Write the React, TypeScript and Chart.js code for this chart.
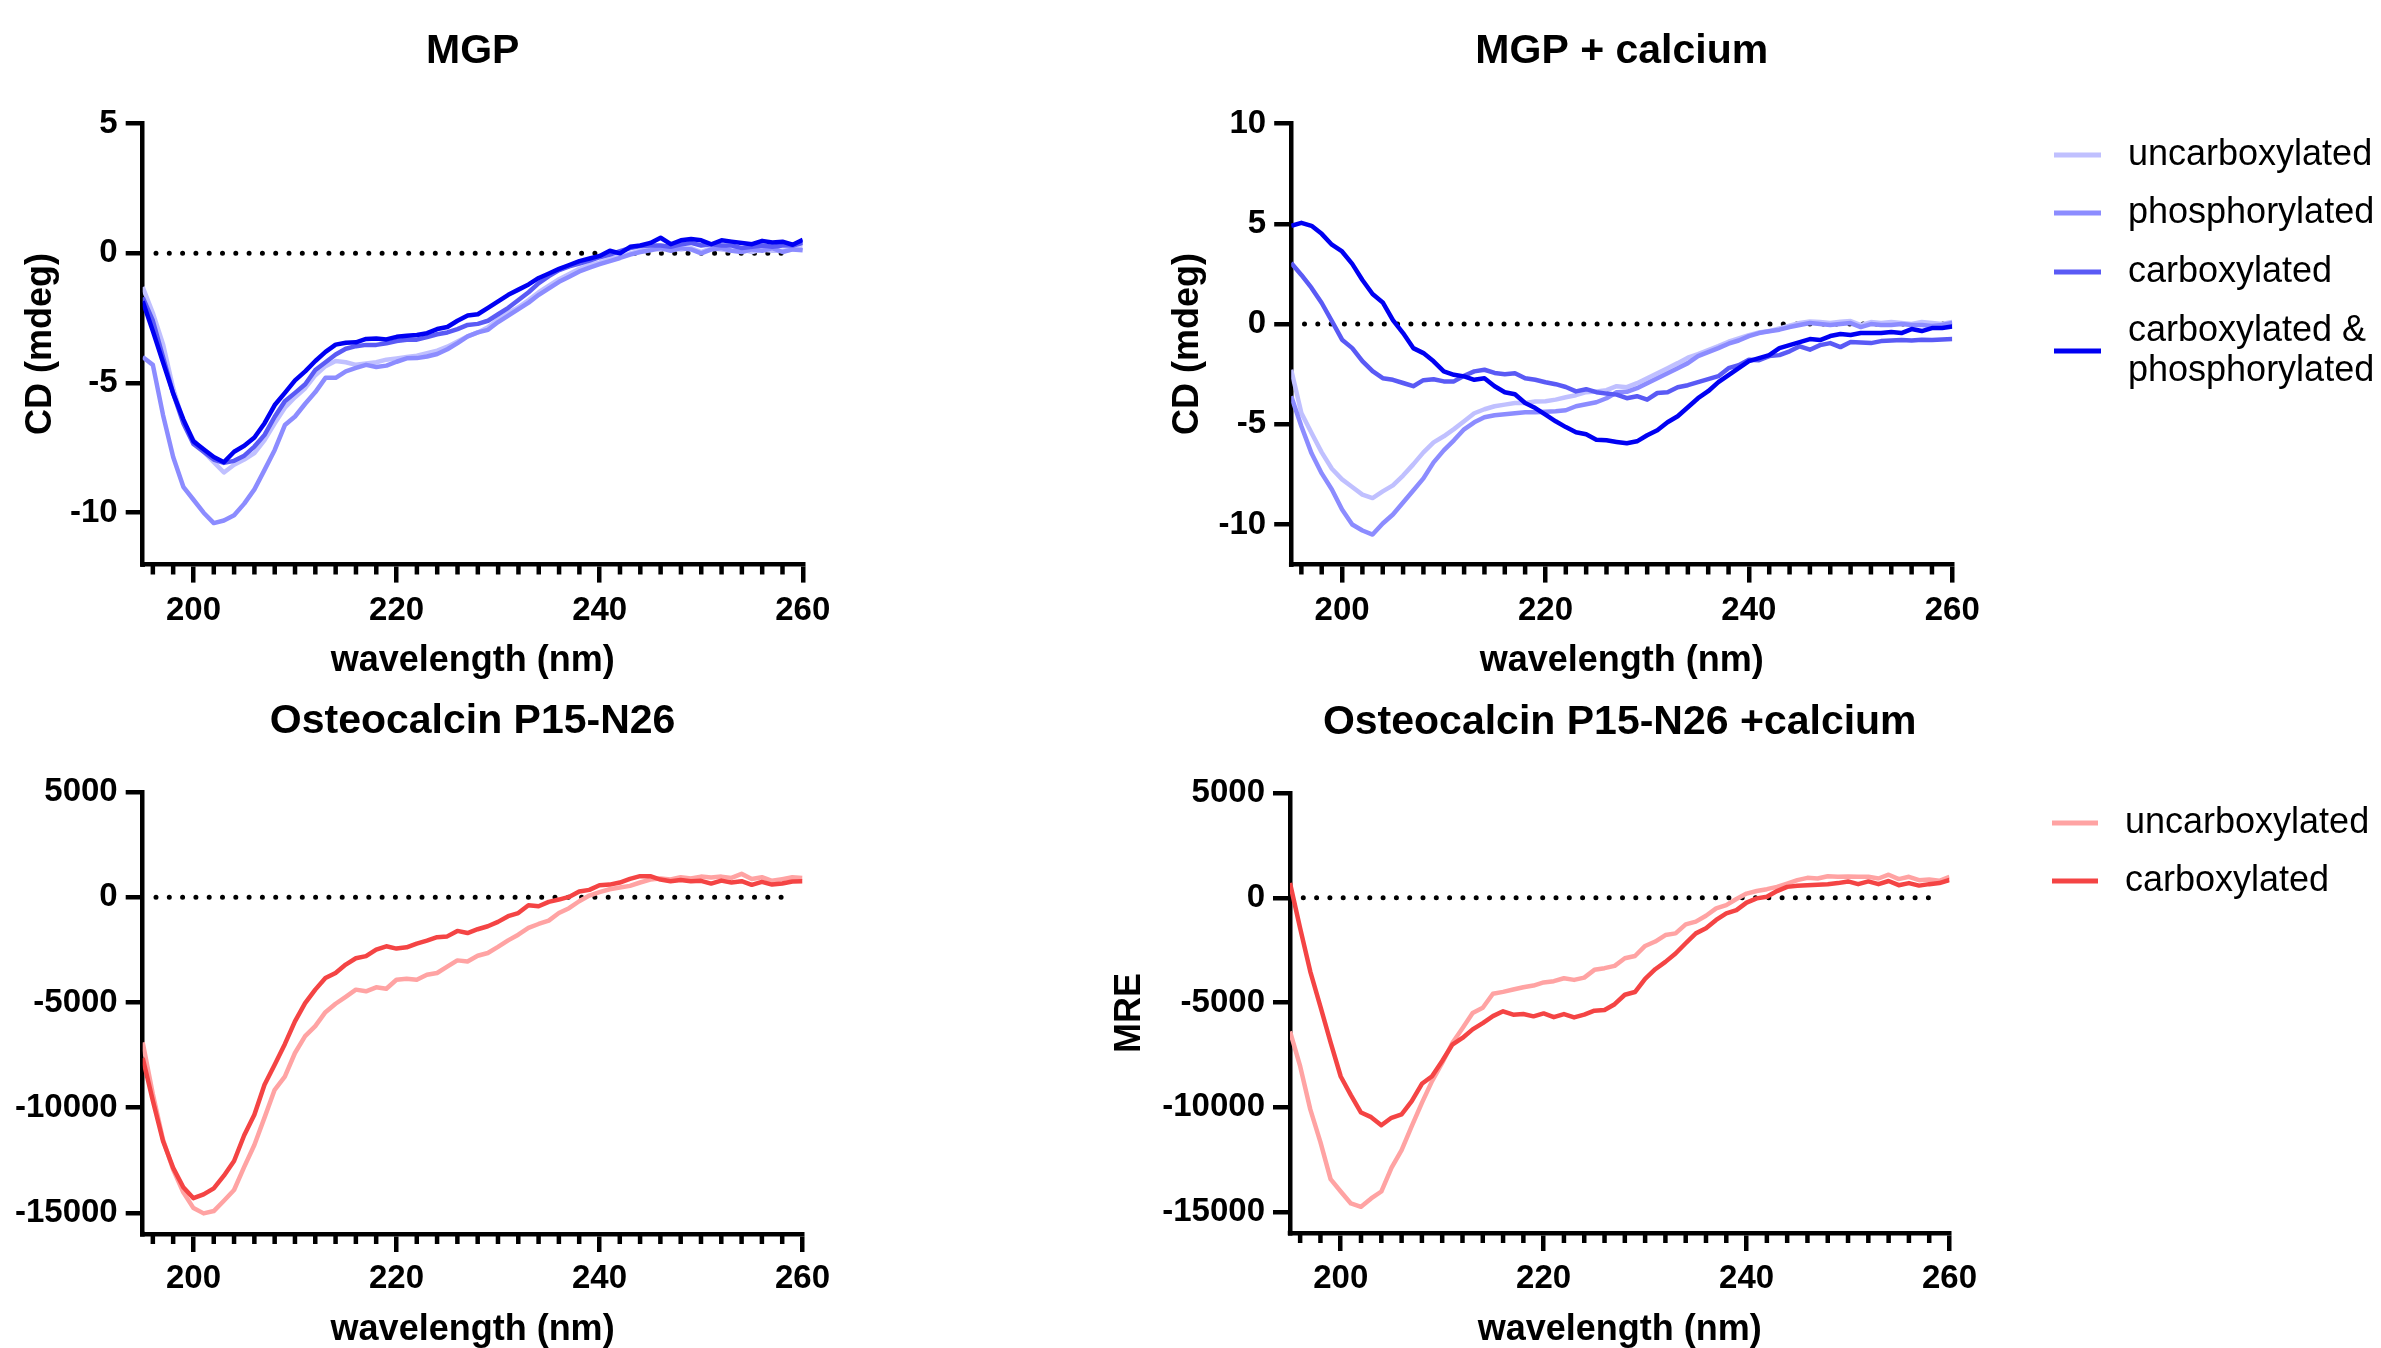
import { useEffect, useRef } from 'react';
import { Chart, registerables } from 'chart.js';

Chart.register(...registerables);

const FONT = "'Liberation Sans', Arial, Helvetica, sans-serif";

// ---------------- data ----------------
const wavelengths = [
  195, 196, 197, 198, 199, 200, 201, 202, 203, 204, 205, 206, 207, 208, 209, 210, 211,
  212, 213, 214, 215, 216, 217, 218, 219, 220, 221, 222, 223, 224, 225, 226, 227, 228,
  229, 230, 231, 232, 233, 234, 235, 236, 237, 238, 239, 240, 241, 242, 243, 244, 245,
  246, 247, 248, 249, 250, 251, 252, 253, 254, 255, 256, 257, 258, 259, 260,
];

const xTickValues = [200, 220, 240, 260];
const xMinorTickValues = [
  196, 198, 202, 204, 206, 208, 210, 212, 214, 216, 218, 222, 224, 226, 228, 230, 232,
  234, 236, 238, 242, 244, 246, 248, 250, 252, 254, 256, 258,
];
const mgpYTicks = [-10, -5, 0, 5];
const mgpCaYTicks = [-10, -5, 0, 5, 10];
const ocYTicks = [-15000, -10000, -5000, 0, 5000];

const mgpLabels = ['uncarboxylated', 'phosphorylated', 'carboxylated', 'carboxylated &\nphosphorylated'];
const ocLabels = ['uncarboxylated', 'carboxylated'];

// MGP (mdeg)
const mgpUncarb = [
  -1.3, -2.3, -3.5, -5.2, -6.5, -7.2, -7.65, -8.05, -8.45, -8.15, -7.95, -7.7, -7.2, -6.55, -5.95, -5.55, -5.2,
  -4.7, -4.35, -4.15, -4.2, -4.3, -4.25, -4.2, -4.1, -4.05, -4.0, -3.95, -3.85, -3.75, -3.6, -3.4, -3.2, -3.05,
  -2.85, -2.55, -2.3, -2.08, -1.8, -1.5, -1.25, -1.0, -0.8, -0.6, -0.45, -0.35, -0.22, -0.12, 0.0, 0.1, 0.18,
  0.15, 0.2, 0.15, 0.2, 0.05, 0.2, 0.15, 0.1, 0.15, 0.05, 0.15, 0.1, 0.1, 0.15, 0.2,
];
const mgpPhos = [
  -4.0, -4.3, -6.23, -7.85, -9.0, -9.5, -10.0, -10.4, -10.3, -10.1, -9.65, -9.1, -8.35, -7.58, -6.62, -6.29, -5.8,
  -5.35, -4.8, -4.8, -4.55, -4.42, -4.3, -4.38, -4.33, -4.18, -4.05, -4.04, -3.98, -3.88, -3.7, -3.46, -3.2, -3.05,
  -2.95, -2.65, -2.4, -2.15, -1.9, -1.6, -1.35, -1.1, -0.9, -0.7, -0.55, -0.42, -0.3, -0.18, -0.05, 0.05, 0.12,
  0.2, 0.1, 0.2, 0.15, 0.0, 0.15, 0.2, 0.1, 0.05, 0.15, 0.1, 0.2, 0.05, 0.15, 0.12,
];
const mgpCarb = [
  -1.7, -2.6, -4.0, -5.4, -6.55, -7.35, -7.65, -7.95, -8.08, -8.0, -7.8, -7.45, -7.0, -6.3, -5.7, -5.38, -5.05,
  -4.5, -4.2, -3.9, -3.68, -3.58, -3.53, -3.53, -3.47, -3.38, -3.33, -3.33, -3.23, -3.12, -3.05, -2.92, -2.76, -2.72,
  -2.6, -2.35, -2.1, -1.8, -1.5, -1.15, -0.88, -0.65, -0.5, -0.4, -0.28, -0.15, -0.05, 0.08, 0.2, 0.28, 0.3,
  0.3, 0.25, 0.35, 0.4, 0.3, 0.35, 0.3, 0.3, 0.2, 0.25, 0.3, 0.25, 0.3, 0.3, 0.4,
];
const mgpCarbPhos = [
  -1.85, -3.0, -4.2, -5.4, -6.4, -7.25, -7.55, -7.85, -8.05, -7.65, -7.42, -7.1, -6.55, -5.85, -5.38, -4.9, -4.55,
  -4.15, -3.8, -3.52, -3.45, -3.43, -3.3, -3.28, -3.32, -3.22, -3.18, -3.15, -3.08, -2.92, -2.84, -2.6, -2.4, -2.35,
  -2.1, -1.85, -1.6, -1.4, -1.2, -0.95, -0.78, -0.6, -0.45, -0.3, -0.2, -0.1, 0.1, 0.0, 0.25, 0.3, 0.4,
  0.6, 0.35, 0.5, 0.55, 0.5, 0.35, 0.5, 0.45, 0.4, 0.35, 0.48, 0.42, 0.45, 0.33, 0.52,
];

// MGP + calcium (mdeg)
const mgpCaUncarb = [
  -2.28, -4.44, -5.44, -6.4, -7.22, -7.75, -8.13, -8.51, -8.68, -8.35, -8.05, -7.56, -7.0, -6.4, -5.9, -5.6, -5.24,
  -4.85, -4.45, -4.25, -4.1, -4.02, -3.94, -3.94, -3.86, -3.85, -3.77, -3.65, -3.55, -3.4, -3.36, -3.3, -3.1,
  -3.15, -2.95, -2.7, -2.45, -2.2, -1.95, -1.68, -1.5, -1.3, -1.1, -0.88, -0.72, -0.55, -0.42, -0.35, -0.22, -0.08,
  0.05, 0.13, 0.1, 0.05, 0.12, 0.15, -0.05, 0.1, 0.05, 0.1, 0.05, 0.0, 0.1, 0.05, 0.0, 0.1,
];
const mgpCaPhos = [
  -3.6, -5.1, -6.45, -7.45, -8.25, -9.25, -10.0, -10.3, -10.5, -9.95, -9.5, -8.9, -8.3, -7.7, -6.9, -6.3, -5.8,
  -5.25, -4.9, -4.65, -4.55, -4.5, -4.45, -4.4, -4.4, -4.38, -4.35, -4.3, -4.1, -4.0, -3.9, -3.7, -3.4,
  -3.38, -3.2, -2.95, -2.7, -2.45, -2.2, -1.95, -1.6, -1.4, -1.2, -0.98, -0.82, -0.6, -0.45, -0.36, -0.28, -0.15,
  -0.05, 0.05, 0.0, -0.05, 0.0, 0.05, -0.15, 0.0, -0.05, -0.05, 0.0, -0.05, -0.05, -0.1, -0.05, 0.05,
];
const mgpCaCarb = [
  3.05, 2.45, 1.8, 1.05, 0.15, -0.78, -1.2, -1.85, -2.35, -2.7, -2.78, -2.94, -3.1, -2.8, -2.75, -2.86, -2.86,
  -2.58, -2.36, -2.28, -2.44, -2.5, -2.45, -2.7, -2.78, -2.9, -3.0, -3.14, -3.36, -3.25, -3.4, -3.47, -3.52,
  -3.7, -3.6, -3.77, -3.44, -3.4, -3.15, -3.05, -2.9, -2.75, -2.6, -2.2, -2.05, -1.78, -1.8, -1.6, -1.55, -1.36,
  -1.11, -1.28, -1.05, -0.95, -1.15, -0.9, -0.92, -0.95, -0.85, -0.82, -0.8, -0.82, -0.78, -0.8, -0.77, -0.75,
];
const mgpCaCarbPhos = [
  4.9, 5.05, 4.9, 4.5, 3.96, 3.62, 3.0, 2.2, 1.5, 1.08, 0.2, -0.45, -1.2, -1.45, -1.86, -2.36, -2.53,
  -2.61, -2.78, -2.7, -3.1, -3.4, -3.5, -3.94, -4.19, -4.52, -4.85, -5.14, -5.4, -5.5, -5.77, -5.8, -5.88,
  -5.95, -5.85, -5.55, -5.3, -4.9, -4.6, -4.15, -3.7, -3.35, -2.9, -2.55, -2.2, -1.85, -1.7, -1.55, -1.2, -1.05,
  -0.9, -0.75, -0.8, -0.6, -0.5, -0.55, -0.45, -0.45, -0.45, -0.4, -0.45, -0.25, -0.35, -0.2, -0.2, -0.12,
];

// Osteocalcin P15-N26 (MRE)
const ocUncarb = [
  -6900, -9360, -11510, -12940, -14020, -14770, -15020, -14910, -14420, -13910, -12810, -11770, -10470, -9150, -8520, -7400, -6600,
  -6120, -5460, -5060, -4730, -4390, -4470, -4280, -4350, -3920, -3870, -3920, -3680, -3600, -3300, -3000, -3050,
  -2780, -2650, -2360, -2050, -1780, -1460, -1270, -1110, -750, -520, -190, 80, 240, 380, 460, 540, 700,
  840, 890, 840, 950, 890, 980, 940, 980, 920, 1110, 870, 950, 780, 860, 950, 920,
];
const ocCarb = [
  -7640, -9670, -11580, -12860, -13780, -14300, -14120, -13830, -13230, -12530, -11310, -10330, -8910, -7960, -6980, -5900, -5030,
  -4390, -3840, -3600, -3200, -2900, -2800, -2490, -2330, -2440, -2380, -2200, -2060, -1900, -1860, -1600, -1700,
  -1520, -1380, -1170, -900, -750, -380, -430, -220, -110, 15, 270, 350, 570, 600, 700, 870, 1000,
  1000, 840, 760, 820, 760, 780, 650, 790, 700, 760, 590, 730, 600, 650, 750, 760,
];

// Osteocalcin P15-N26 + calcium (MRE)
const ocCaUncarb = [
  -6380, -8040, -10100, -11660, -13430, -14020, -14590, -14750, -14350, -14020, -12890, -12040, -10900, -9790, -8750, -7880, -6930,
  -6230, -5500, -5250, -4580, -4490, -4380, -4270, -4190, -4040, -3980, -3840, -3920, -3810, -3440, -3360, -3250, -2890,
  -2780, -2300, -2090, -1780, -1700, -1270, -1140, -860, -510, -350, -60, 200, 320, 410, 520, 680,
  840, 950, 920, 1030, 1000, 1010, 1000, 1000, 920, 1100, 890, 1000, 840, 870, 810, 1000,
];
const ocCaCarb = [
  700, -1460, -3520, -5190, -6900, -8530, -9420, -10250, -10470, -10860, -10500, -10340, -9710, -8880, -8520, -7790, -7010,
  -6690, -6280, -5980, -5650, -5420, -5580, -5550, -5660, -5520, -5700, -5550, -5710, -5580, -5390, -5360, -5080, -4630,
  -4500, -3870, -3410, -3060, -2660, -2170, -1700, -1460, -1060, -745, -590, -230, -30, 50, 320, 520,
  570, 600, 620, 650, 700, 780, 650, 780, 650, 800, 600, 700, 580, 650, 700, 850,
];

// ---------------- styles ----------------
const blueColors = ['#C0C0FF', '#8C8CFF', '#5A5AF5', '#0000F2'];
const redColors = ['#FFA3A3', '#F44444'];
const AXIS_W = 4.5;
const MINOR_LEN = 10;

const decorPlugin: any = {
  id: 'panelDecor',
  beforeDatasetsDraw(chart: any, _args: any, opts: any) {
    const { ctx, chartArea, scales } = chart;
    const y0 = scales.y.getPixelForValue(0);
    ctx.save();
    ctx.strokeStyle = '#000';
    ctx.lineWidth = 5;
    ctx.lineCap = 'round';
    ctx.setLineDash([0, opts.dotGap]);
    ctx.beginPath();
    ctx.moveTo(chartArea.left + opts.dotStart, y0);
    ctx.lineTo(chartArea.right - opts.dotEnd, y0);
    ctx.stroke();
    ctx.restore();
  },
  afterDraw(chart: any, _args: any, opts: any) {
    const { ctx, chartArea, scales } = chart;
    const xs = scales.x;
    ctx.save();
    ctx.fillStyle = '#000';
    ctx.fillRect(chartArea.left - AXIS_W / 2, chartArea.bottom - AXIS_W / 2, AXIS_W, AXIS_W);
    ctx.strokeStyle = '#000';
    ctx.lineWidth = AXIS_W;
    ctx.lineCap = 'butt';
    ctx.beginPath();
    for (const v of xMinorTickValues) {
      const px = xs.getPixelForValue(v);
      ctx.moveTo(px, chartArea.bottom);
      ctx.lineTo(px, chartArea.bottom + MINOR_LEN);
    }
    ctx.stroke();

    ctx.fillStyle = '#000';
    ctx.font = `bold 41px ${FONT}`;
    ctx.textAlign = 'center';
    ctx.textBaseline = 'middle';
    ctx.fillText(opts.title, (chartArea.left + chartArea.right) / 2, opts.titleY);

    const L = opts.legend;
    if (L) {
      const items = chart.data.datasets;
      items.forEach((ds: any, i: number) => {
        const cy = L.rows[i];
        ctx.strokeStyle = ds.borderColor;
        ctx.lineWidth = 5;
        ctx.beginPath();
        ctx.moveTo(L.lineX1, cy);
        ctx.lineTo(L.lineX2, cy);
        ctx.stroke();
        const lines = String(ds.label).split('\n');
        ctx.font = `36px ${FONT}`;
        ctx.textAlign = 'left';
        ctx.textBaseline = 'middle';
        ctx.fillStyle = '#000';
        lines.forEach((t: string, j: number) => {
          ctx.fillText(t, L.textX, cy + (j - (lines.length - 1) / 2) * L.lineGap);
        });
      });
    }
    ctx.restore();
  },
};

type Series = { label: string; data: number[]; color: string };
type PanelSpec = {
  key: string;
  left: number; top: number; width: number; height: number;
  title: string; titleY: number;
  yTitle: string | null; yTitlePad: number;
  yMin: number; yMax: number; yTicks: number[];
  yAxisWidth: number; xAxisHeight: number;
  padTop: number; padRight: number;
  xTitlePad: number; xTickPad: number;
  series: Series[];
  legend: any;
};

const PANELS: PanelSpec[] = [
  {
    key: 'mgp', left: 0, top: 0, width: 1090, height: 690,
    title: 'MGP', titleY: 52,
    yTitle: 'CD (mdeg)', yTitlePad: 23,
    yMin: -12, yMax: 5, yTicks: mgpYTicks,
    yAxisWidth: 142.7, xAxisHeight: 125.4, padTop: 123.6, padRight: 287.2,
    xTitlePad: 11, xTickPad: 11.9,
    series: [
      { label: mgpLabels[0], data: mgpUncarb, color: blueColors[0] },
      { label: mgpLabels[1], data: mgpPhos, color: blueColors[1] },
      { label: mgpLabels[2], data: mgpCarb, color: blueColors[2] },
      { label: mgpLabels[3], data: mgpCarbPhos, color: blueColors[3] },
    ],
    legend: null,
  },
  {
    key: 'mgpca', left: 1090, top: 0, width: 1291, height: 690,
    title: 'MGP + calcium', titleY: 52,
    yTitle: 'CD (mdeg)', yTitlePad: 80,
    yMin: -12, yMax: 10, yTicks: mgpCaYTicks,
    yAxisWidth: 201.2, xAxisHeight: 125.4, padTop: 123.6, padRight: 428.7,
    xTitlePad: 11, xTickPad: 11.9,
    series: [
      { label: mgpLabels[0], data: mgpCaUncarb, color: blueColors[0] },
      { label: mgpLabels[1], data: mgpCaPhos, color: blueColors[1] },
      { label: mgpLabels[2], data: mgpCaCarb, color: blueColors[2] },
      { label: mgpLabels[3], data: mgpCaCarbPhos, color: blueColors[3] },
    ],
    legend: { lineX1: 964, lineX2: 1011, textX: 1038, rows: [155, 213, 272, 351], lineGap: 40 },
  },
  {
    key: 'oc', left: 0, top: 690, width: 1090, height: 658,
    title: 'Osteocalcin P15-N26', titleY: 31.5,
    yTitle: null, yTitlePad: 0,
    yMin: -16000, yMax: 5000, yTicks: ocYTicks,
    yAxisWidth: 142.7, xAxisHeight: 114, padTop: 102, padRight: 287.5,
    xTitlePad: 0, xTickPad: 10.5,
    series: [
      { label: ocLabels[0], data: ocUncarb, color: redColors[0] },
      { label: ocLabels[1], data: ocCarb, color: redColors[1] },
    ],
    legend: null,
  },
  {
    key: 'occa', left: 1090, top: 690, width: 1291, height: 658,
    title: 'Osteocalcin P15-N26 +calcium', titleY: 32.5,
    yTitle: 'MRE', yTitlePad: 22,
    yMin: -16000, yMax: 5000, yTicks: ocYTicks,
    yAxisWidth: 200, xAxisHeight: 115, padTop: 103, padRight: 431.5,
    xTitlePad: 0, xTickPad: 11,
    series: [
      { label: ocLabels[0], data: ocCaUncarb, color: redColors[0] },
      { label: ocLabels[1], data: ocCaCarb, color: redColors[1] },
    ],
    legend: { lineX1: 962, lineX2: 1008, textX: 1035, rows: [133, 191], lineGap: 40 },
  },
];

function buildConfig(p: PanelSpec): any {
  const n = p.series.length;
  const datasets = p.series.map((s, i) => ({
    label: s.label,
    data: wavelengths.map((w, j) => ({ x: w, y: s.data[j] })),
    borderColor: s.color,
    backgroundColor: s.color,
    borderWidth: 4.5,
    pointRadius: 0,
    pointHoverRadius: 0,
    tension: 0,
    fill: false,
    borderJoinStyle: 'round',
    order: n - i,
  }));
  const tickFont = { family: FONT, size: 33, weight: 'bold', lineHeight: 1 };
  const titleFont = { family: FONT, size: 36, weight: 'bold', lineHeight: 1 };
  return {
    type: 'line',
    data: { datasets },
    plugins: [decorPlugin],
    options: {
      responsive: false,
      animation: false,
      events: [],
      layout: { padding: { left: 0, top: p.padTop, right: p.padRight, bottom: 0 } },
      plugins: {
        legend: { display: false },
        title: { display: false },
        tooltip: { enabled: false },
        panelDecor: { title: p.title, titleY: p.titleY, legend: p.legend, dotGap: 13.3, dotStart: 13.3, dotEnd: 9 },
      },
      scales: {
        x: {
          type: 'linear',
          min: 195,
          max: 260,
          afterBuildTicks: (s: any) => { s.ticks = xTickValues.map((v) => ({ value: v })); },
          afterFit: (s: any) => { s.height = p.xAxisHeight; },
          ticks: {
            autoSkip: false, maxRotation: 0, minRotation: 0,
            padding: p.xTickPad, color: '#000', font: tickFont,
            callback: (v: any) => String(v),
          },
          grid: {
            display: true, drawOnChartArea: false, drawTicks: true,
            tickLength: 18, tickWidth: AXIS_W, tickColor: '#000', color: '#000', lineWidth: AXIS_W,
          },
          border: { display: true, color: '#000', width: AXIS_W },
          title: {
            display: true, text: 'wavelength (nm)', color: '#000', font: titleFont,
            padding: { top: 0, bottom: p.xTitlePad },
          },
        },
        y: {
          type: 'linear',
          position: 'left',
          min: p.yMin,
          max: p.yMax,
          afterBuildTicks: (s: any) => { s.ticks = p.yTicks.map((v) => ({ value: v })); },
          afterFit: (s: any) => { s.width = p.yAxisWidth; },
          ticks: {
            autoSkip: false, padding: 8, color: '#000', font: tickFont,
            callback: (v: any) => String(v),
          },
          grid: {
            display: true, drawOnChartArea: false, drawTicks: true,
            tickLength: 17, tickWidth: AXIS_W, tickColor: '#000', color: '#000', lineWidth: AXIS_W,
          },
          border: { display: true, color: '#000', width: AXIS_W },
          title: {
            display: !!p.yTitle, text: p.yTitle || '', color: '#000', font: titleFont,
            padding: { top: p.yTitlePad, bottom: 0 },
          },
        },
      },
    },
  };
}

function Panel({ spec }: { spec: PanelSpec }) {
  const ref = useRef<HTMLCanvasElement | null>(null);
  useEffect(() => {
    if (!ref.current) return;
    const chart = new Chart(ref.current, buildConfig(spec));
    return () => chart.destroy();
  }, [spec]);
  return (
    <canvas
      ref={ref}
      width={spec.width}
      height={spec.height}
      style={{ position: 'absolute', left: spec.left, top: spec.top, width: spec.width, height: spec.height }}
    />
  );
}

export default function App() {
  return (
    <div style={{ position: 'absolute', left: 0, top: 0, width: 2381, height: 1348, background: '#fff', overflow: 'hidden' }}>
      {PANELS.map((p) => (
        <Panel key={p.key} spec={p} />
      ))}
    </div>
  );
}
